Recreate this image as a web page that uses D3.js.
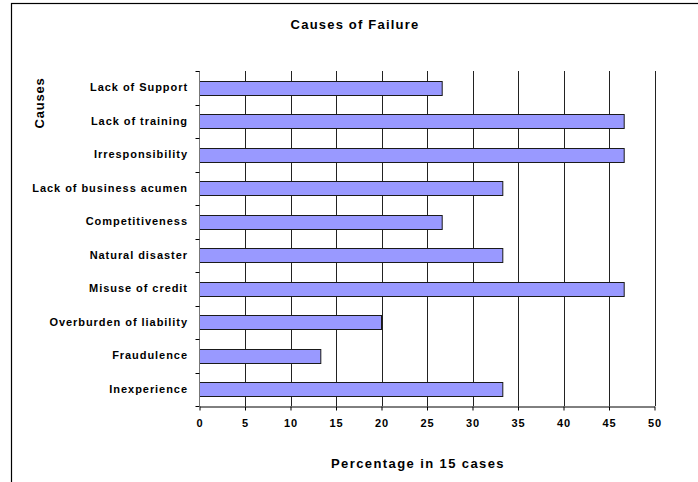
<!DOCTYPE html>
<html>
<head>
<meta charset="utf-8">
<script src="https://cdn.jsdelivr.net/npm/d3@7"></script>
<style>
  html, body { margin: 0; padding: 0; background: #fff; }
  svg { display: block; }
  text { font-family: "Liberation Sans", Arial, sans-serif; font-weight: bold; fill: #000; }
</style>
</head>
<body>
<svg id="chart" width="698" height="482"></svg>
<script>
const categories = [
  "Lack of Support",
  "Lack of training",
  "Irresponsibility",
  "Lack of business acumen",
  "Competitiveness",
  "Natural disaster",
  "Misuse of credit",
  "Overburden of liability",
  "Fraudulence",
  "Inexperience"
];
const values = [26.67, 46.67, 46.67, 33.33, 26.67, 33.33, 46.67, 20, 13.33, 33.33];
const xTicks = [0, 5, 10, 15, 20, 25, 30, 35, 40, 45, 50];
const title = "Causes of Failure";
const xTitle = "Percentage in 15 cases";
const yTitle = "Causes";

const svg = d3.select("#chart");
const W = 698, H = 482;
const plot = { left: 199.5, right: 654.5, top: 71, bottom: 406 };

// outer frame (extends beyond the right and bottom edges)
svg.append("rect")
  .attr("x", 11.5).attr("y", 3.5)
  .attr("width", W + 20).attr("height", H + 20)
  .attr("fill", "none").attr("stroke", "#000").attr("stroke-width", 1.2);

const x = d3.scaleLinear().domain([0, 50]).range([plot.left, plot.right]);
const y = d3.scaleBand().domain(categories).range([plot.top, plot.bottom]).padding(0);

// gridlines
svg.append("g").selectAll("line")
  .data(xTicks.filter(t => t > 0))
  .join("line")
  .attr("x1", d => Math.round(x(d)) + 0.5).attr("x2", d => Math.round(x(d)) + 0.5)
  .attr("y1", plot.top).attr("y2", plot.bottom)
  .attr("stroke", "#222").attr("stroke-width", 1);

// bars
const bw = y.bandwidth();
const barH = bw * 0.42;
svg.append("g").selectAll("rect")
  .data(categories.map((c, i) => ({ c, v: values[i] })))
  .join("rect")
  .attr("x", x(0))
  .attr("y", d => Math.round(y(d.c) + (bw - barH) / 2) + 0.5)
  .attr("width", d => x(d.v) - x(0))
  .attr("height", Math.round(barH))
  .attr("fill", "#9999FF")
  .attr("stroke", "#1a1a1a").attr("stroke-width", 1);

// x axis
const xAxis = d3.axisBottom(x).tickValues(xTicks).tickSize(4).tickPadding(9).tickSizeOuter(0);
const gx = svg.append("g").attr("transform", `translate(0,${plot.bottom + 0.5})`).call(xAxis);
gx.select(".domain").attr("stroke", "#000");
gx.selectAll(".tick line").attr("stroke", "#000");
gx.selectAll("text")
  .style("font-family", '"Liberation Sans", Arial, sans-serif')
  .style("font-weight", "bold").style("font-size", "11px")
  .style("letter-spacing", "1px").attr("fill", "#000");

// y axis
const boundaries = categories.map(c => y(c)).concat([plot.bottom]);
svg.append("line")
  .attr("x1", plot.left).attr("x2", plot.left)
  .attr("y1", plot.top).attr("y2", plot.bottom)
  .attr("stroke", "#777").attr("stroke-width", 1);
svg.append("g").selectAll("line")
  .data(boundaries)
  .join("line")
  .attr("x1", plot.left - 4).attr("x2", plot.left)
  .attr("y1", d => Math.round(d) + 0.5).attr("y2", d => Math.round(d) + 0.5)
  .attr("stroke", "#000");

svg.append("g").selectAll("text")
  .data(categories)
  .join("text")
  .attr("x", 188)
  .attr("y", d => y(d) + bw / 2)
  .attr("dy", "0.3em")
  .attr("text-anchor", "end")
  .style("font-size", "11px")
  .style("letter-spacing", "0.95px")
  .text(d => d);

// titles
svg.append("text")
  .attr("x", 355).attr("y", 29)
  .attr("text-anchor", "middle")
  .style("font-size", "13px").style("letter-spacing", "1.2px")
  .text(title);

svg.append("text")
  .attr("x", 418).attr("y", 468)
  .attr("text-anchor", "middle")
  .style("font-size", "13px").style("letter-spacing", "1.4px")
  .text(xTitle);

svg.append("text")
  .attr("transform", "translate(44,103) rotate(-90)")
  .attr("text-anchor", "middle")
  .style("font-size", "13px").style("letter-spacing", "0.8px")
  .text(yTitle);
</script>
</body>
</html>
